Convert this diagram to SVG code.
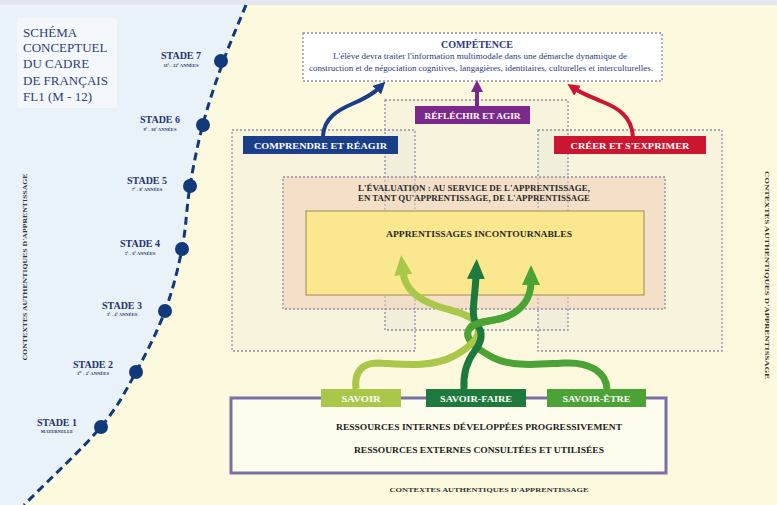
<svg xmlns="http://www.w3.org/2000/svg" width="777" height="505" viewBox="0 0 777 505">
<defs>
<style>
.t{font-family:"Liberation Serif",serif;}
.b{font-weight:bold;}
.stg{font-family:"Liberation Serif",serif;font-weight:bold;fill:#1f3570;text-anchor:middle;}
.sub{font-family:"Liberation Serif",serif;font-weight:bold;fill:#1f3570;text-anchor:middle;font-size:4.6px;}
.dot{fill:#123a7a;}
.region{fill:#b8b8c8;fill-opacity:0.08;stroke:#8f8ea2;stroke-width:1.3;stroke-dasharray:2 2;}
.lbl{font-family:"Liberation Serif",serif;font-weight:bold;fill:#ffffff;text-anchor:middle;}
.gl{fill:none;stroke-width:7;stroke-linecap:butt;}
.ctx{font-family:"Liberation Serif",serif;font-weight:bold;fill:#333333;font-size:7px;text-anchor:middle;}
</style>
<marker id="hBlue" markerUnits="userSpaceOnUse" markerWidth="12" markerHeight="12" refX="3" refY="6" orient="auto"><path d="M0,0 L12,6 L0,12 z" fill="#1a3e87"/></marker>
<marker id="hPurple" markerUnits="userSpaceOnUse" markerWidth="12" markerHeight="12" refX="3" refY="6" orient="auto"><path d="M0,0 L12,6 L0,12 z" fill="#7b2a8c"/></marker>
<marker id="hRed" markerUnits="userSpaceOnUse" markerWidth="12" markerHeight="12" refX="3" refY="6" orient="auto"><path d="M0,0 L12,6 L0,12 z" fill="#cc1630"/></marker>
<marker id="hLG" markerUnits="userSpaceOnUse" markerWidth="20" markerHeight="18" refX="3" refY="9" orient="auto"><path d="M0,0 L20,9 L0,18 z" fill="#a9c84a"/></marker>
<marker id="hDG" markerUnits="userSpaceOnUse" markerWidth="20" markerHeight="18" refX="3" refY="9" orient="auto"><path d="M0,0 L20,9 L0,18 z" fill="#1e7a3c"/></marker>
<marker id="hMG" markerUnits="userSpaceOnUse" markerWidth="20" markerHeight="18" refX="3" refY="9" orient="auto"><path d="M0,0 L20,9 L0,18 z" fill="#4ba235"/></marker>
</defs>

<!-- backgrounds -->
<rect x="0" y="0" width="777" height="505" fill="#fdf9df"/>
<path d="M0,5 L246,5 C238.3,24 230.2,42.2 223,62 C215.8,81.8 208.5,103.3 203,124 C197.5,144.7 193.5,165.2 190,186 C186.5,206.8 186.2,228.2 182,249 C177.8,269.8 172.7,290.5 165,311 C157.3,331.5 146.8,352.5 136,372 C125.2,391.5 118.7,405.8 100,428 C81.3,450.2 49.3,479.3 24,505 L0,505 Z" fill="#e9f1f9"/>
<rect x="0" y="0" width="777" height="5" fill="#e3e6ee"/>

<!-- timeline -->
<g id="timeline">
<path d="M246,5 C238.3,24 230.2,42.2 223,62 C215.8,81.8 208.5,103.3 203,124 C197.5,144.7 193.5,165.2 190,186 C186.5,206.8 186.2,228.2 182,249 C177.8,269.8 172.7,290.5 165,311 C157.3,331.5 146.8,352.5 136,372 C125.2,391.5 118.7,405.8 100,428 C81.3,450.2 49.3,479.3 24,505" fill="none" stroke="#123a7a" stroke-width="3" stroke-dasharray="8 5"/>
</g>

<g id="title">
<rect x="17" y="18" width="100" height="90" rx="3" fill="#f4f8fc"/>
<text class="t" font-size="13" fill="#2e3f75">
<tspan x="23" y="37">SCHÉMA</tspan>
<tspan x="23" y="52">CONCEPTUEL</tspan>
<tspan x="23" y="68">DU CADRE</tspan>
<tspan x="23" y="85">DE FRANÇAIS</tspan>
<tspan x="23" y="101">FL1 (M - 12)</tspan>
</text>
</g>

<g id="stade7"><circle class="dot" cx="221" cy="61" r="7"/><text class="stg" x="181" y="59" font-size="10">STADE 7</text><text class="sub" x="181" y="67">11<tspan baseline-shift="super" font-size="3">e</tspan> - 12<tspan baseline-shift="super" font-size="3">e</tspan> ANNÉES</text></g>
<g id="stade6"><circle class="dot" cx="203" cy="125" r="7"/><text class="stg" x="160" y="123" font-size="10">STADE 6</text><text class="sub" x="160" y="131">9<tspan baseline-shift="super" font-size="3">e</tspan> - 10<tspan baseline-shift="super" font-size="3">e</tspan> ANNÉES</text></g>
<g id="stade5"><circle class="dot" cx="190" cy="186" r="7"/><text class="stg" x="147" y="184" font-size="10">STADE 5</text><text class="sub" x="147" y="191">7<tspan baseline-shift="super" font-size="3">e</tspan> - 8<tspan baseline-shift="super" font-size="3">e</tspan> ANNÉES</text></g>
<g id="stade4"><circle class="dot" cx="182" cy="249" r="7"/><text class="stg" x="140" y="247" font-size="10">STADE 4</text><text class="sub" x="140" y="255">5<tspan baseline-shift="super" font-size="3">e</tspan> - 6<tspan baseline-shift="super" font-size="3">e</tspan> ANNÉES</text></g>
<g id="stade3"><circle class="dot" cx="165" cy="311" r="7"/><text class="stg" x="122" y="309" font-size="10">STADE 3</text><text class="sub" x="122" y="316">3<tspan baseline-shift="super" font-size="3">e</tspan> - 4<tspan baseline-shift="super" font-size="3">e</tspan> ANNÉES</text></g>
<g id="stade2"><circle class="dot" cx="136" cy="372" r="7"/><text class="stg" x="93" y="368" font-size="10">STADE 2</text><text class="sub" x="93" y="375">1<tspan baseline-shift="super" font-size="3">re</tspan> - 2<tspan baseline-shift="super" font-size="3">e</tspan> ANNÉES</text></g>
<g id="stade1"><circle class="dot" cx="101" cy="427" r="7"/><text class="stg" x="57" y="426" font-size="10">STADE 1</text><text class="sub" x="57" y="433">MATERNELLE</text></g>

<g id="ctx-left"><text class="ctx" transform="translate(27,267) rotate(-90)" textLength="187" lengthAdjust="spacingAndGlyphs">CONTEXTES AUTHENTIQUES D'APPRENTISSAGE</text></g>
<g id="ctx-right"><text class="ctx" transform="translate(765,275) rotate(90)" textLength="208" lengthAdjust="spacingAndGlyphs">CONTEXTES AUTHENTIQUES D'APPRENTISSAGE</text></g>
<g id="ctx-bottom"><text class="ctx" x="489" y="492" textLength="199" lengthAdjust="spacingAndGlyphs">CONTEXTES AUTHENTIQUES D'APPRENTISSAGE</text></g>

<!-- regions -->
<g id="region-comprendre"><rect class="region" x="232" y="130" width="183" height="221"/></g>
<g id="region-reflechir"><rect class="region" x="385" y="100" width="183" height="230"/></g>
<g id="region-creer"><rect class="region" x="538" y="130" width="184" height="221"/></g>

<g id="evaluation">
<rect x="283" y="177" width="382" height="132" fill="#f2cdb6" fill-opacity="0.5" stroke="#8f8ea2" stroke-width="1.3" stroke-dasharray="2 2"/>
<text class="t b" font-size="8" fill="#2a2a2a" text-anchor="middle"><tspan x="474" y="191" textLength="232" lengthAdjust="spacingAndGlyphs">L'ÉVALUATION : AU SERVICE DE L'APPRENTISSAGE,</tspan><tspan x="474" y="201" textLength="232" lengthAdjust="spacingAndGlyphs">EN TANT QU'APPRENTISSAGE, DE L'APPRENTISSAGE</tspan></text>
</g>

<g id="apprentissages">
<rect x="306" y="211" width="338" height="84" fill="#fbe88e" stroke="#a89a62" stroke-width="1.2"/>
<text class="t b" x="479" y="237" font-size="8" fill="#2a2a2a" text-anchor="middle" textLength="186" lengthAdjust="spacingAndGlyphs">APPRENTISSAGES INCONTOURNABLES</text>
</g>

<g id="competence">
<rect x="303" y="33" width="359" height="48" fill="#ffffff" stroke="#8f8ea2" stroke-width="1.3" stroke-dasharray="2 2"/>
<text class="t b" x="477" y="48" font-size="10" fill="#2b3a7a" text-anchor="middle" textLength="72" lengthAdjust="spacingAndGlyphs">COMPÉTENCE</text>
<text class="t" font-size="7.3" fill="#2b3a7a" text-anchor="middle"><tspan x="480" y="59" textLength="294" lengthAdjust="spacingAndGlyphs">L'élève devra traiter l'information multimodale dans une démarche dynamique de</tspan><tspan x="481" y="71" textLength="344" lengthAdjust="spacingAndGlyphs">construction et de négociation cognitives, langagières, identitaires, culturelles et interculturelles.</tspan></text>
</g>

<g id="comprendre">
<rect x="243" y="136" width="155" height="18" fill="#1a3e87"/>
<text class="lbl" x="320.5" y="148.5" font-size="8.5" textLength="133" lengthAdjust="spacingAndGlyphs">COMPRENDRE ET RÉAGIR</text>
</g>
<g id="reflechir">
<rect x="415" y="106" width="115" height="18" fill="#7b2a8c"/>
<text class="lbl" x="472.5" y="118.5" font-size="8.5" textLength="96" lengthAdjust="spacingAndGlyphs">RÉFLÉCHIR ET AGIR</text>
</g>
<g id="creer">
<rect x="554" y="136" width="152" height="18" fill="#cc1630"/>
<text class="lbl" x="630" y="148.5" font-size="8.5" textLength="119" lengthAdjust="spacingAndGlyphs">CRÉER ET S'EXPRIMER</text>
</g>

<g id="ressources">
<rect x="231" y="398" width="435" height="75" fill="#fefcec" stroke="#7a70a8" stroke-width="3"/>
<text class="t b" x="479" y="430" font-size="8.5" fill="#222222" text-anchor="middle" textLength="286" lengthAdjust="spacingAndGlyphs">RESSOURCES INTERNES DÉVELOPPÉES PROGRESSIVEMENT</text>
<text class="t b" x="479" y="453" font-size="8.5" fill="#222222" text-anchor="middle" textLength="250" lengthAdjust="spacingAndGlyphs">RESSOURCES EXTERNES CONSULTÉES ET UTILISÉES</text>
</g>

<g id="connectors">
<path d="M323,136 C324,118 338,110 352,104 C366,98 373,94 379,88" fill="none" stroke="#1a3e87" stroke-width="4" marker-end="url(#hBlue)"/>
<path d="M477,106 L477,89" fill="none" stroke="#7b2a8c" stroke-width="4" marker-end="url(#hPurple)"/>
<path d="M633,136 C631,116 618,108 603,102 C589,96 581,93 575,89" fill="none" stroke="#cc1630" stroke-width="4" marker-end="url(#hRed)"/>
<path class="gl" d="M607,389 C606,372 590,362 565,363 C540,364 510,368 490,356 C476,348 462,338 470,328 C477,320 495,322 508,316 C522,310 531,298 531,282" stroke="#4ba235" marker-end="url(#hMG)"/>
<path class="gl" d="M356,389 C354,372 362,363 378,363 C400,364 430,368 452,357 C468,349 482,337 478,326 C474,315 455,312 437,306 C418,299 405,290 403,272" stroke="#a9c84a" marker-end="url(#hLG)"/>
<path class="gl" d="M464,389 C463,372 468,360 474,352 C481,343 484,333 477,325 C470,316 475,300 476,276" stroke="#1e7a3c" marker-end="url(#hDG)"/>
<path class="gl" d="M470,328 C477,320 495,322 508,316" stroke="#4ba235"/>
</g>

<g id="savoir">
<rect x="321" y="389" width="80" height="18" fill="#a9c84a"/>
<text class="lbl" x="361" y="401.5" font-size="8" textLength="39" lengthAdjust="spacingAndGlyphs">SAVOIR</text>
</g>
<g id="savoir-faire">
<rect x="426" y="389" width="100" height="18" fill="#1e7a3c"/>
<text class="lbl" x="476" y="401.5" font-size="8" textLength="72" lengthAdjust="spacingAndGlyphs">SAVOIR-FAIRE</text>
</g>
<g id="savoir-etre">
<rect x="547" y="389" width="99" height="18" fill="#4ba235"/>
<text class="lbl" x="596.5" y="401.5" font-size="8" textLength="68" lengthAdjust="spacingAndGlyphs">SAVOIR-ÊTRE</text>
</g>
</svg>
